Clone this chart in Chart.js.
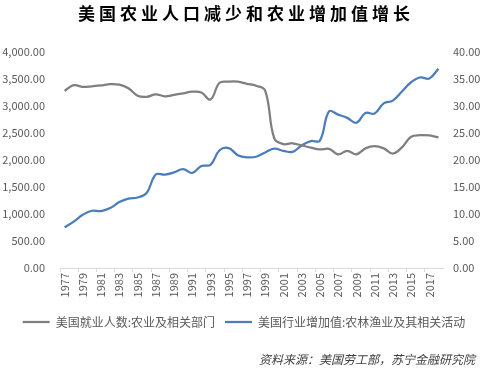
<!DOCTYPE html>
<html>
<head>
<meta charset="utf-8">
<script src="https://cdn.jsdelivr.net/npm/chart.js@4/dist/chart.umd.min.js"></script>
<style>
  html, body { margin: 0; padding: 0; background: #fff; }
  #wrap { position: relative; width: 488px; height: 369px; }
</style>
</head>
<body>
<div id="wrap"><canvas id="chart" width="488" height="369"></canvas></div>
<script>
const years = [];
for (let y = 1977; y <= 2018; y++) years.push(String(y));

// 美国就业人数:农业及相关部门 (千人, 左轴)
const farmJobs = [
  3280, 3385, 3355, 3365, 3380, 3405, 3395, 3330, 3190, 3170,
  3215, 3180, 3205, 3235, 3265, 3250, 3120, 3430, 3450, 3450,
  3410, 3375, 3285, 2400, 2295, 2310, 2270, 2230, 2195, 2205,
  2105, 2170, 2105, 2215, 2255, 2215, 2120, 2235, 2430, 2460,
  2455, 2420
];

// 美国行业增加值:农林渔业及其相关活动 (右轴)
const farmValue = [
  7.55, 8.6, 9.85, 10.6, 10.55, 11.1, 12.2, 12.85, 13.05, 13.9,
  17.3, 17.3, 17.7, 18.3, 17.6, 18.9, 19.1, 21.8, 22.2, 20.9,
  20.5, 20.6, 21.4, 22.1, 21.7, 21.5, 22.7, 23.5, 23.6, 29.0,
  28.4, 27.8, 26.9, 28.7, 28.6, 30.5, 31.0, 32.7, 34.4, 35.3,
  35.1, 36.9
];

const titleText = "美国农业人口减少和农业增加值增长";
const sourceText = "资料来源：美国劳工部，苏宁金融研究院";

const fmt2 = (v) => Number(v).toLocaleString("en-US", { minimumFractionDigits: 2, maximumFractionDigits: 2 });

Chart.defaults.font.family = '"Noto Sans CJK SC", "Noto Sans", sans-serif';
Chart.defaults.font.size = 11;
Chart.defaults.color = "#595959";

// title and source note drawn on the canvas
const textPlugin = {
  id: "textPlugin",
  afterDraw(chart) {
    const ctx = chart.ctx;
    ctx.save();
    ctx.fillStyle = "#000";
    ctx.font = 'bold 17px "Noto Sans CJK SC"';
    ctx.textAlign = "center";
    ctx.textBaseline = "middle";
    ctx.letterSpacing = "4px";
    ctx.fillText(titleText, 246, 14);
    ctx.letterSpacing = "0px";
    ctx.fillStyle = "#404040";
    ctx.font = 'italic 12px "Noto Sans CJK SC"';
    ctx.textAlign = "right";
    ctx.fillText(sourceText, 475, 359);
    ctx.restore();
  },
};

const ctx = document.getElementById("chart").getContext("2d");
new Chart(ctx, {
  type: "line",
  data: {
    labels: years,
    datasets: [
      {
        label: "美国就业人数:农业及相关部门",
        data: farmJobs,
        yAxisID: "y",
        borderColor: "#7f7f7f",
        backgroundColor: "#7f7f7f",
        borderWidth: 2.25,
        pointRadius: 0,
        tension: 0.4,
      },
      {
        label: "美国行业增加值:农林渔业及其相关活动",
        data: farmValue,
        yAxisID: "y1",
        borderColor: "#4a7ebb",
        backgroundColor: "#4a7ebb",
        borderWidth: 2.25,
        pointRadius: 0,
        tension: 0.4,
      },
    ],
  },
  options: {
    responsive: false,
    animation: false,
    layout: { padding: { top: 52, bottom: 31, left: 0, right: 0 } },
    plugins: {
      legend: {
        position: "bottom",
        labels: {
          usePointStyle: true,
          pointStyle: "line",
          pointStyleWidth: 27,
          padding: 10,
          color: "#595959",
          font: { size: 12 },
        },
      },
      tooltip: { enabled: false },
    },
    scales: {
      x: {
        type: "category",
        offset: true,
        grid: {
          offset: true,
          drawOnChartArea: false,
          drawTicks: true,
          tickLength: 4,
          color: (c) => (c.index % 2 === 0 ? "#d9d9d9" : "rgba(0,0,0,0)"),
        },
        border: { display: true, color: "#d9d9d9" },
        ticks: {
          autoSkip: false,
          minRotation: 90,
          maxRotation: 90,
          padding: 1,
          callback: function (val, index) {
            return index % 2 === 0 ? this.getLabelForValue(val) : "";
          },
        },
        afterFit: (scale) => { scale.height = 38; },
      },
      y: {
        position: "left",
        min: 0,
        max: 4000,
        grid: { display: false, drawTicks: false },
        border: { display: false },
        ticks: { stepSize: 500, padding: 15, callback: (v) => fmt2(v) },
        afterFit: (scale) => { scale.width = 60; },
      },
      y1: {
        position: "right",
        min: 0,
        max: 40,
        grid: { display: false, drawTicks: false },
        border: { display: false },
        ticks: { stepSize: 5, padding: 10, callback: (v) => fmt2(v) },
        afterFit: (scale) => { scale.width = 45; },
      },
    },
  },
  plugins: [textPlugin],
});
</script>
</body>
</html>
